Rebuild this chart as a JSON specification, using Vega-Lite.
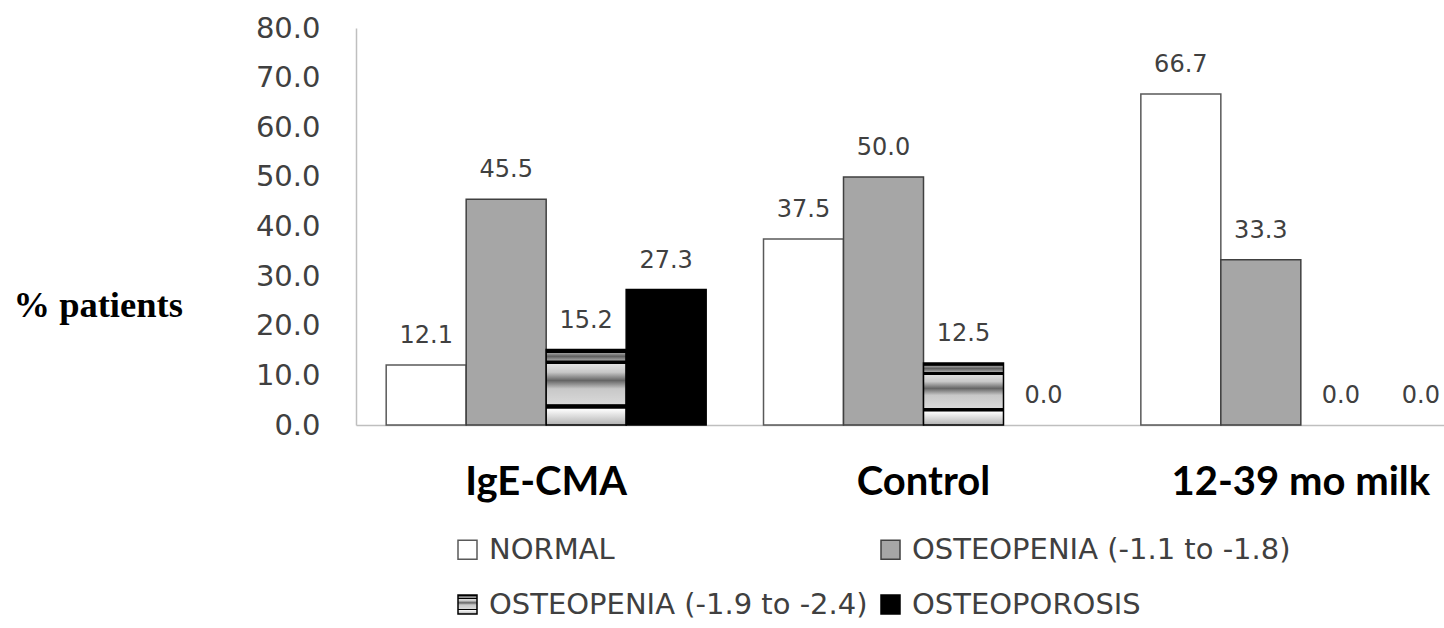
{
  "$schema": "https://vega.github.io/schema/vega-lite/v6.json",
  "autosize": {"type": "none"},
  "width": 1088,
  "height": 397,
  "padding": {"left": 356, "top": 28, "right": 0, "bottom": 203},
  "background": "white",
  "config": {"view": {"stroke": null}},
  "data": {
    "values": [
      {"group": "IgE-CMA", "cat": "NORMAL", "pct": 12.1},
      {"group": "IgE-CMA", "cat": "OSTEOPENIA (-1.1 to -1.8)", "pct": 45.5},
      {"group": "IgE-CMA", "cat": "OSTEOPENIA (-1.9 to -2.4)", "pct": 15.2},
      {"group": "IgE-CMA", "cat": "OSTEOPOROSIS", "pct": 27.3},
      {"group": "Control", "cat": "NORMAL", "pct": 37.5},
      {"group": "Control", "cat": "OSTEOPENIA (-1.1 to -1.8)", "pct": 50.0},
      {"group": "Control", "cat": "OSTEOPENIA (-1.9 to -2.4)", "pct": 12.5},
      {"group": "Control", "cat": "OSTEOPOROSIS", "pct": 0.0},
      {"group": "12-39 mo milk", "cat": "NORMAL", "pct": 66.7},
      {"group": "12-39 mo milk", "cat": "OSTEOPENIA (-1.1 to -1.8)", "pct": 33.3},
      {"group": "12-39 mo milk", "cat": "OSTEOPENIA (-1.9 to -2.4)", "pct": 0.0},
      {"group": "12-39 mo milk", "cat": "OSTEOPOROSIS", "pct": 0.0}
    ]
  },
  "encoding": {
    "x": {
      "field": "group",
      "type": "nominal",
      "sort": ["IgE-CMA", "Control", "12-39 mo milk"],
      "scale": {"range": [0, 1135], "paddingInner": 0.152, "paddingOuter": 0.08},
      "axis": {
        "title": null,
        "labelAngle": 0,
        "ticks": false,
        "domainColor": "#bfbfbf",
        "domainWidth": 1.5,
        "labelFont": "Lato",
        "labelFontWeight": "bold",
        "labelFontSize": 40,
        "labelColor": "#000000",
        "labelPadding": 37,
        "labelLimit": 600
      }
    },
    "xOffset": {
      "field": "cat",
      "type": "nominal",
      "sort": ["NORMAL", "OSTEOPENIA (-1.1 to -1.8)", "OSTEOPENIA (-1.9 to -2.4)", "OSTEOPOROSIS"],
      "scale": {"paddingInner": 0, "paddingOuter": 0}
    },
    "y": {
      "field": "pct",
      "type": "quantitative",
      "scale": {"domain": [0, 80], "nice": false},
      "axis": {
        "title": "% patients",
        "titleAngle": 0,
        "titleFont": "Liberation Serif",
        "titleFontWeight": "bold",
        "titleFontSize": 36.5,
        "titleColor": "#000000",
        "titleAlign": "left",
        "titleBaseline": "middle",
        "titleX": -343,
        "titleY": 277,
        "values": [0, 10, 20, 30, 40, 50, 60, 70, 80],
        "format": ".1f",
        "ticks": false,
        "grid": false,
        "domainColor": "#bfbfbf",
        "domainWidth": 1.5,
        "labelFont": "DejaVu Sans",
        "labelFontSize": 29,
        "labelColor": "#404040",
        "labelPadding": 36
      }
    }
  },
  "layer": [
    {
      "transform": [{"filter": "datum.pct > 0"}],
      "mark": {"type": "bar", "strokeWidth": 1.5},
      "encoding": {
        "fill": {
          "field": "cat",
          "type": "nominal",
          "scale": {
            "domain": ["NORMAL", "OSTEOPENIA (-1.1 to -1.8)", "OSTEOPENIA (-1.9 to -2.4)", "OSTEOPOROSIS"],
            "range": [
              "#ffffff",
              "#a6a6a6",
              {"expr": "{gradient: 'linear', x1: 0, y1: 0, x2: 0, y2: 1, stops: [{offset: 0, color: '#000000'}, {offset: 0.04, color: '#000000'}, {offset: 0.045, color: '#a0a0a0'}, {offset: 0.09, color: '#606060'}, {offset: 0.14, color: '#a0a0a0'}, {offset: 0.15, color: '#000000'}, {offset: 0.19, color: '#000000'}, {offset: 0.195, color: '#e0e0e0'}, {offset: 0.30, color: '#c8c8c8'}, {offset: 0.41, color: '#656565'}, {offset: 0.52, color: '#c8c8c8'}, {offset: 0.72, color: '#d8d8d8'}, {offset: 0.73, color: '#000000'}, {offset: 0.78, color: '#000000'}, {offset: 0.785, color: '#ffffff'}, {offset: 0.96, color: '#c0c0c0'}, {offset: 1, color: '#b0b0b0'}]}"},
              "#000000"
            ]
          },
          "legend": {
            "title": null,
            "orient": "none",
            "legendX": 97,
            "legendY": 507,
            "direction": "horizontal",
            "columns": 2,
            "symbolType": "square",
            "symbolSize": 361,
            "symbolStrokeWidth": 1.5,
            "labelFont": "DejaVu Sans",
            "labelFontSize": 29,
            "labelColor": "#404040",
            "labelLimit": 800,
            "labelOffset": 7,
            "columnPadding": 8,
            "rowPadding": 25,
            "padding": 0
          }
        },
        "stroke": {
          "field": "cat",
          "type": "nominal",
          "scale": {
            "domain": ["NORMAL", "OSTEOPENIA (-1.1 to -1.8)", "OSTEOPENIA (-1.9 to -2.4)", "OSTEOPOROSIS"],
            "range": ["#595959", "#404040", "#000000", "#000000"]
          },
          "legend": null
        }
      }
    },
    {
      "mark": {"type": "text", "dy": -29, "baseline": "middle", "font": "DejaVu Sans", "fontSize": 24, "color": "#404040"},
      "encoding": {
        "text": {"field": "pct", "type": "quantitative", "format": ".1f"}
      }
    }
  ]
}
